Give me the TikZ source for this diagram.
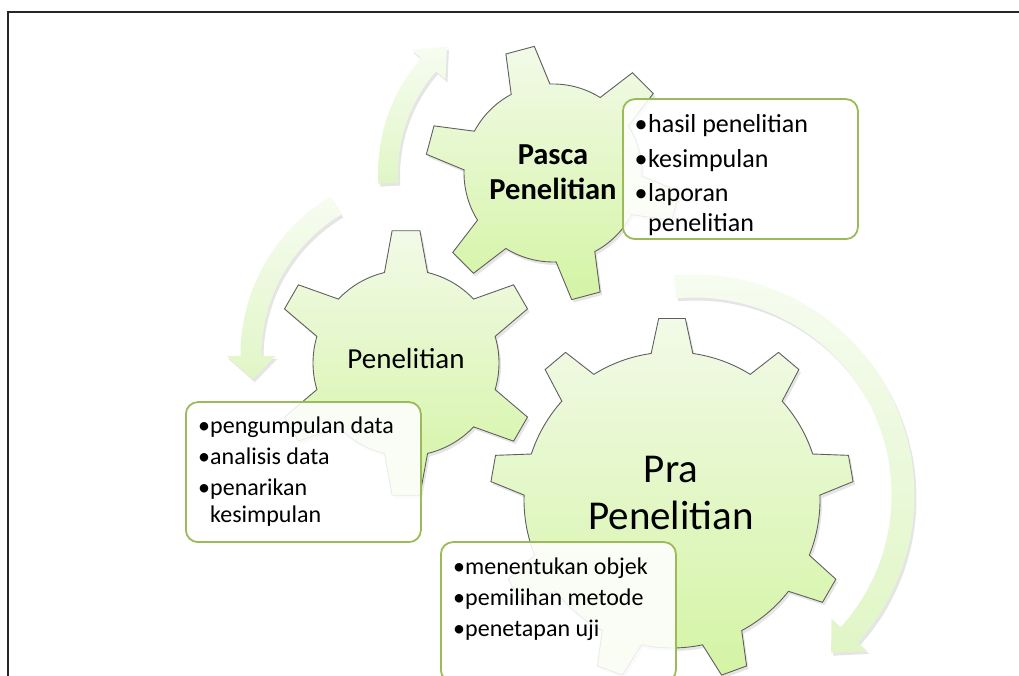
\documentclass[tikz,border=0pt]{standalone}
\usepackage{fontspec}
\setmainfont{Carlito}
\definecolor{gtop}{RGB}{242,250,232}
\definecolor{gbot}{RGB}{212,244,164}
\definecolor{atop}{RGB}{247,252,241}
\definecolor{abot}{RGB}{224,246,198}
\definecolor{boxgreen}{RGB}{155,187,89}
\definecolor{gearline}{RGB}{95,95,95}
\newcommand{\gearpath}[7]{({#4-#7}:#1) \foreach \a in {#5} { -- ({\a-#6}:#2) -- ({\a+#6}:#2) -- ({\a+#7}:#1) arc[start angle={\a+#7}, end angle={\a+#3-#7}, radius=#1] } -- cycle}
\newcommand{\circarrowpath}[6]{({#3}:{#1+#2}) arc[start angle={#3}, end angle={#4}, radius={#1+#2}] -- ({#4}:{#1+#6}) -- ({#5}:#1) -- ({#4}:{#1-#6}) -- ({#4}:{#1-#2}) arc[start angle={#4}, end angle={#3}, radius={#1-#2}] -- cycle}
\newcommand{\fsA}{\fontsize{26}{31}\selectfont}
\newcommand{\fsB}{\fontsize{24}{29}\selectfont}
\begin{document}
\begin{tikzpicture}[x=1pt,y=1pt,
  gearfill/.style={top color=gtop, bottom color=gbot, draw=gearline, line width=0.9pt},
  shadowfill/.style={fill=black, fill opacity=0.10, draw=none},
  arrowfill/.style={top color=atop, bottom color=abot, draw=none},
  tbox/.style={draw=boxgreen, line width=1.8pt, rounded corners=12pt, fill=white, fill opacity=0.88, minimum width=235pt, minimum height=140pt, anchor=south west, inner sep=0pt},
  bul/.style={anchor=base, inner sep=0pt},
  lst/.style={anchor=base west, inner sep=0pt},
  lbl/.style={anchor=base, inner sep=0pt}]
\useasboundingbox (0,0) rectangle (1019,676);
% frame
\draw[line width=2pt, black!85] (7.5,-5) -- (7.5,663.5) -- (1025,663.5);
% circular arrows
\begin{scope}[shift={(553,503)}]
  \path[shadowfill, shift={(2,-3)}] \circarrowpath{165}{10}{183.5}{139}{130}{22.5};
  \path[arrowfill] \circarrowpath{165}{10}{183.5}{139}{130}{22.5};
\end{scope}
\begin{scope}[shift={(425,321)}]
  \path[shadowfill, shift={(2,-3)}] \circarrowpath{174}{10.5}{120.8}{180.3}{188}{24.5};
  \path[arrowfill] \circarrowpath{174}{10.5}{120.8}{180.3}{188}{24.5};
\end{scope}
\begin{scope}[shift={(694,181)}]
  \path[shadowfill, shift={(2,-3)}] \circarrowpath{209}{11.5}{95.2}{-42}{-49}{24};
  \path[arrowfill] \circarrowpath{209}{11.5}{95.2}{-42}{-49}{24};
\end{scope}
% gears
\begin{scope}[shift={(672,176)}]
  \path[shadowfill, shift={(2,-3)}] \gearpath{148}{182}{40}{10}{10,50,...,330}{4.2}{8.1};
  \path[gearfill] \gearpath{148}{182}{40}{10}{10,50,...,330}{4.2}{8.1};
\end{scope}
\begin{scope}[shift={(406,313)}]
  \path[shadowfill, shift={(2,-3)}] \gearpath{93}{133}{60}{30}{30,90,...,330}{6}{13.4};
  \path[gearfill] \gearpath{93}{133}{60}{30}{30,90,...,330}{6}{13.4};
\end{scope}
\begin{scope}[shift={(553,503)}]
  \path[shadowfill, shift={(2,-3)}] \gearpath{89}{128}{60}{45}{45,105,...,345}{6.6}{13};
  \path[gearfill] \gearpath{89}{128}{60}{45}{45,105,...,345}{6.6}{13};
\end{scope}
% gear labels
\node[lbl, font=\fontsize{30.5}{36}\selectfont\bfseries] (lpasca1) at (553,511) {Pasca};
\node[lbl, font=\fontsize{30.5}{36}\selectfont\bfseries] (lpasca2) at (553,476) {Penelitian};
\node[lbl, font=\fontsize{29}{35}\selectfont] (lpen) at (406,307) {Penelitian};
\node[lbl, font=\fontsize{41}{49}\selectfont] (lpra1) at (671,193) {Pra};
\node[lbl, font=\fontsize{41}{49}\selectfont] (lpra2) at (671,146) {Penelitian};
% text boxes
\node[tbox] (boxpasca) at (622,436) {};
\node[tbox] (boxpen) at (185,133) {};
\node[tbox] (boxpra) at (440,-7) {};
% Pasca list
\node[bul, font=\fsA] (b11) at (641,543) {•};
\node[lst, font=\fsA] (t11) at (648,543) {hasil penelitian};
\node[bul, font=\fsA] (b12) at (641,508) {•};
\node[lst, font=\fsA] (t12) at (648,508) {kesimpulan};
\node[bul, font=\fsA] (b13) at (641,474) {•};
\node[lst, font=\fsA] (t13) at (648,474) {laporan};
\node[lst, font=\fsA] (t14) at (648,444) {penelitian};
% Penelitian list
\node[bul, font=\fsB] (b21) at (204,242) {•};
\node[lst, font=\fsB] (t21) at (210,242) {pengumpulan data};
\node[bul, font=\fsB] (b22) at (204,211) {•};
\node[lst, font=\fsB] (t22) at (210,211) {analisis data};
\node[bul, font=\fsB] (b23) at (204,180) {•};
\node[lst, font=\fsB] (t23) at (210,180) {penarikan};
\node[lst, font=\fsB] (t24) at (210,153) {kesimpulan};
% Pra list
\node[bul, font=\fsB] (b31) at (459,101) {•};
\node[lst, font=\fsB] (t31) at (465,101) {menentukan objek};
\node[bul, font=\fsB] (b32) at (459,70) {•};
\node[lst, font=\fsB] (t32) at (465,70) {pemilihan metode};
\node[bul, font=\fsB] (b33) at (459,39) {•};
\node[lst, font=\fsB] (t33) at (465,39) {penetapan uji};
\end{tikzpicture}
\end{document}
